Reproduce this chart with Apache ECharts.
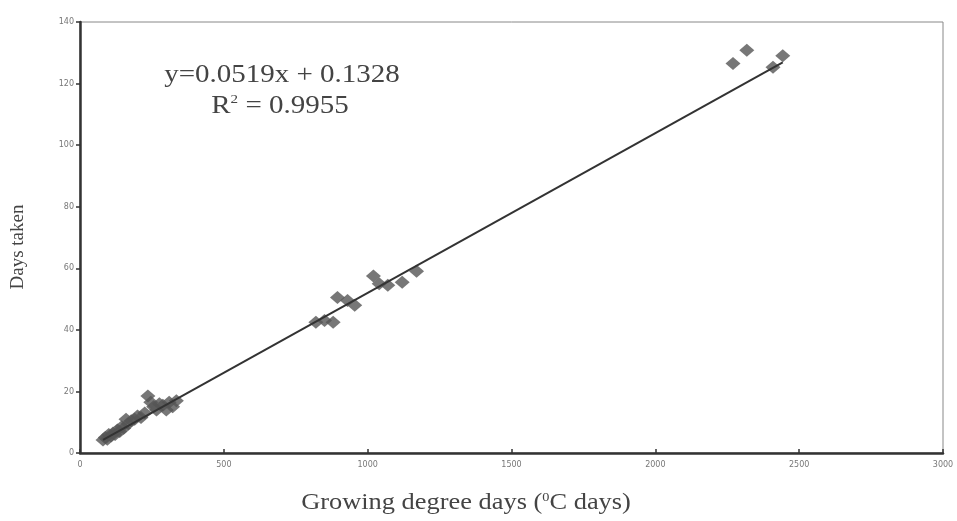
<!DOCTYPE html>
<html>
<head>
<meta charset="utf-8">
<script src="https://cdn.jsdelivr.net/npm/echarts@6/dist/echarts.min.js"></script>
<style>html,body{margin:0;padding:0;background:#fff}#c{width:957px;height:521px}</style>
</head>
<body>
<div id="c"></div>
<script>
// Observed points: growing degree days (°C days) vs days taken
const gdd = [80, 88, 95, 100, 108, 115, 122, 130, 138, 145, 152, 160, 168, 178, 190, 200, 212, 225, 236, 246, 256, 266, 276, 288, 300, 310, 322, 335,
             820, 850, 880, 895, 930, 955, 1020, 1040, 1070, 1120, 1170,
             2270, 2318, 2409, 2443];
const days = [4.2, 5, 4.5, 6, 5.5, 6.5, 6, 7.5, 7, 8.5, 8, 11, 9.5, 10.5, 11, 12, 11.5, 13, 18.5, 16.5, 15, 14, 16, 15.5, 14, 16.5, 15, 17,
              42.5, 43, 42.5, 50.5, 49.5, 48, 57.5, 55, 54.5, 55.5, 59,
              126.5, 130.8, 125.3, 129];
// Trendline endpoints as drawn (x, y)
const trendX = [80, 2443];
const trendY = [4.3, 126.9];
const xTicks = [0, 500, 1000, 1500, 2000, 2500, 3000];
const yTicks = [0, 20, 40, 60, 80, 100, 120, 140];
const equation = 'y=0.0519x + 0.1328';
const rSquared = 'R{s|2} = 0.9955';
const xTitle = 'Growing degree days ({s|0}C days)';
const yTitle = 'Days taken';

const chart = echarts.init(document.getElementById('c'));
chart.setOption({
  animation: false,
  backgroundColor: '#fff',
  grid: {left: 80, right: 14, top: 22, bottom: 68, show: true, borderColor: '#888', borderWidth: 1, backgroundColor: 'transparent'},
  xAxis: {
    type: 'value', min: xTicks[0], max: xTicks[xTicks.length - 1], interval: 500,
    axisLine: {show: true, lineStyle: {color: '#333', width: 2.5}},
    axisTick: {show: true, inside: true, length: 4, lineStyle: {color: '#333', width: 1.5}},
    axisLabel: {color: '#777', fontSize: 8, fontFamily: 'DejaVu Sans', margin: 8, formatter: v => String(v)},
    splitLine: {show: false}
  },
  yAxis: {
    type: 'value', min: yTicks[0], max: yTicks[yTicks.length - 1], interval: 20,
    axisLine: {show: true, lineStyle: {color: '#333', width: 2.5}},
    axisTick: {show: true, length: 4, lineStyle: {color: '#333', width: 1.5}},
    axisLabel: {color: '#777', fontSize: 8, fontFamily: 'DejaVu Sans', margin: 6},
    splitLine: {show: false}
  },
  series: [
    {
      type: 'line',
      data: trendX.map((x, i) => [x, trendY[i]]),
      symbol: 'none',
      lineStyle: {color: '#333', width: 2},
      z: 3
    },
    {
      type: 'scatter',
      data: gdd.map((x, i) => [x, days[i]]),
      symbol: 'diamond',
      symbolSize: [15, 13],
      itemStyle: {color: '#555'},
      z: 2
    }
  ],
  graphic: [
    {type: 'text', x: 282, y: 75, scaleX: 1.16,
     style: {text: equation, font: '25px "Liberation Serif"', fill: '#444', textAlign: 'center', textVerticalAlign: 'middle'}},
    {type: 'text', x: 280, y: 106, scaleX: 1.16,
     style: {text: rSquared, font: '25px "Liberation Serif"', fill: '#444', textAlign: 'center', textVerticalAlign: 'middle',
             rich: {s: {fontSize: 13, fontFamily: 'Liberation Serif', verticalAlign: 'top', fill: '#444'}}}},
    {type: 'text', x: 466, y: 503, scaleX: 1.1,
     style: {text: xTitle, font: '24px "Liberation Serif"', fill: '#444', textAlign: 'center', textVerticalAlign: 'middle',
             rich: {s: {fontSize: 13, fontFamily: 'Liberation Serif', verticalAlign: 'top', fill: '#444'}}}},
    {type: 'text', x: 18, y: 247, rotation: Math.PI / 2,
     style: {text: yTitle, font: '19px "Liberation Serif"', fill: '#444', textAlign: 'center', textVerticalAlign: 'middle'}}
  ]
});
</script>
</body>
</html>
